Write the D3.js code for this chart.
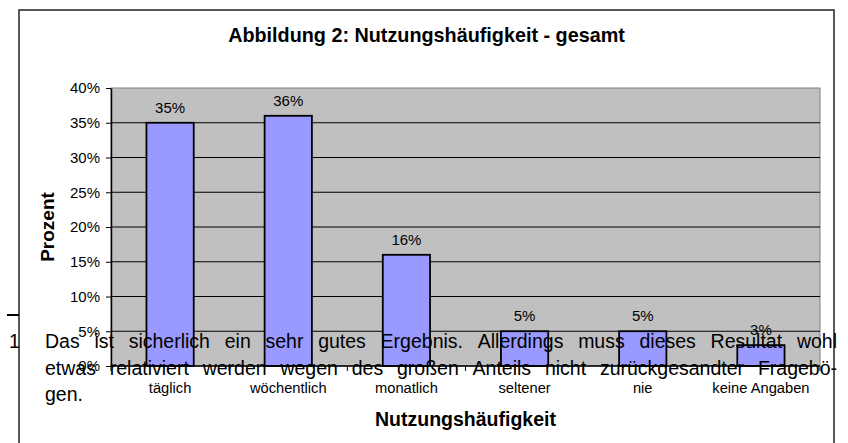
<!DOCTYPE html>
<html>
<head>
<meta charset="utf-8">
<script src="https://cdnjs.cloudflare.com/ajax/libs/d3/7.8.5/d3.min.js"></script>
<style>
  body { margin: 0; background: #fff; }
  text { font-family: "Liberation Sans", Arial, sans-serif; }
</style>
</head>
<body>
<svg id="chart" width="848" height="443"></svg>
<script>
// data
const categories = ["täglich", "wöchentlich", "monatlich", "seltener", "nie", "keine Angaben"];
const percentValues = [35, 36, 16, 5, 5, 3];
const yTicks = [0, 5, 10, 15, 20, 25, 30, 35, 40];
const chartTitle = "Abbildung 2: Nutzungshäufigkeit - gesamt";
const xTitle = "Nutzungshäufigkeit";
const yTitle = "Prozent";
const footnoteMark = "1";
const footnoteLines = [
    "Das ist sicherlich ein sehr gutes Ergebnis. Allerdings muss dieses Resultat wohl",
    "etwas relativiert werden wegen des großen Anteils nicht zurückgesandter Fragebö-",
    "gen."
];

const svg = d3.select("#chart");

// chart box (runs off the bottom of the page)
const box = { left: 19, top: 10, right: 834, bottom: 470 };
const plot = { left: 111, top: 88, right: 820, bottom: 366 };

svg.append("rect")
    .attr("x", box.left).attr("y", box.top)
    .attr("width", box.right - box.left).attr("height", box.bottom - box.top)
    .attr("fill", "#fff")
    .attr("stroke", "#222")
    .attr("stroke-width", 1.5);

// scales
const x = d3.scaleBand()
    .domain(categories)
    .range([plot.left, plot.right])
    .paddingInner(0.6)
    .paddingOuter(0.3);

const y = d3.scaleLinear()
    .domain([0, 40])
    .range([plot.bottom, plot.top]);

// plot area
svg.append("rect")
    .attr("x", plot.left).attr("y", plot.top)
    .attr("width", plot.right - plot.left).attr("height", plot.bottom - plot.top)
    .attr("fill", "#c0c0c0")
    .attr("stroke", "#808080")
    .attr("stroke-width", 1);

// gridlines
svg.append("g")
    .selectAll("line")
    .data(yTicks.filter(d => d > 0 && d < 40))
    .enter()
    .append("line")
    .attr("x1", plot.left).attr("x2", plot.right)
    .attr("y1", d => y(d)).attr("y2", d => y(d))
    .attr("stroke", "#000")
    .attr("stroke-width", 1);

// bars
svg.append("g")
    .selectAll("rect")
    .data(percentValues)
    .enter()
    .append("rect")
    .attr("x", (d, i) => x(categories[i]))
    .attr("y", d => y(d))
    .attr("width", x.bandwidth())
    .attr("height", d => y(0) - y(d))
    .attr("fill", "#9999ff")
    .attr("stroke", "#000")
    .attr("stroke-width", 1.8);

// value labels
svg.append("g")
    .selectAll("text")
    .data(percentValues)
    .enter()
    .append("text")
    .attr("x", (d, i) => x(categories[i]) + x.bandwidth() / 2)
    .attr("y", d => y(d) - 10)
    .attr("text-anchor", "middle")
    .attr("font-size", 15)
    .attr("fill", "#000")
    .text(d => d + "%");

// y axis
const yAxis = svg.append("g")
    .attr("transform", `translate(${plot.left},0)`)
    .call(d3.axisLeft(y)
        .tickValues(yTicks)
        .tickFormat(d => d + "%")
        .tickSizeInner(5)
        .tickSizeOuter(0)
        .tickPadding(6));
yAxis.select(".domain").attr("stroke", "#000").attr("stroke-width", 1.5);
yAxis.selectAll(".tick line").attr("stroke", "#000");
yAxis.selectAll(".tick text")
    .attr("font-size", 15)
    .attr("font-family", "Liberation Sans, Arial, sans-serif")
    .attr("fill", "#000");

// x axis: line, ticks between categories, labels
svg.append("line")
    .attr("x1", plot.left).attr("x2", plot.right)
    .attr("y1", y(0)).attr("y2", y(0))
    .attr("stroke", "#000")
    .attr("stroke-width", 1.5);

svg.append("g")
    .selectAll("line")
    .data(d3.range(categories.length + 1))
    .enter()
    .append("line")
    .attr("x1", i => plot.left + i * x.step())
    .attr("x2", i => plot.left + i * x.step())
    .attr("y1", y(0)).attr("y2", y(0) + 5)
    .attr("stroke", "#000");

svg.append("g")
    .selectAll("text")
    .data(categories)
    .enter()
    .append("text")
    .attr("x", d => x(d) + x.bandwidth() / 2)
    .attr("y", 393)
    .attr("text-anchor", "middle")
    .attr("font-size", 14.7)
    .text(d => d);

// titles
svg.append("text")
    .attr("x", (box.left + box.right) / 2)
    .attr("y", 42)
    .attr("text-anchor", "middle")
    .attr("font-size", 19.8)
    .attr("font-weight", "bold")
    .text(chartTitle);

svg.append("text")
    .attr("x", (plot.left + plot.right) / 2)
    .attr("y", 426)
    .attr("text-anchor", "middle")
    .attr("font-size", 19.5)
    .attr("font-weight", "bold")
    .text(xTitle);

svg.append("text")
    .attr("transform", `translate(54,${(plot.top + plot.bottom) / 2}) rotate(-90)`)
    .attr("text-anchor", "middle")
    .attr("font-size", 19)
    .attr("font-weight", "bold")
    .text(yTitle);

// footnote drawn over the chart
svg.append("line")
    .attr("x1", 7).attr("x2", 19)
    .attr("y1", 315).attr("y2", 315)
    .attr("stroke", "#000")
    .attr("stroke-width", 2);

svg.append("text")
    .attr("x", 9).attr("y", 348)
    .attr("font-size", 19.5)
    .text(footnoteMark);

const noteLeft = 45, noteRight = 837, noteSize = 19.5;
const noteBaselines = [348, 374.5, 401];

footnoteLines.forEach((line, li) => {
    const words = line.split(" ");
    const g = svg.append("g");
    const nodes = words.map(w => g.append("text")
        .attr("font-size", noteSize)
        .attr("y", noteBaselines[li])
        .text(w));
    const widths = nodes.map(n => n.node().getComputedTextLength());
    const total = d3.sum(widths);
    // justify every line except the last one
    const gap = (li < footnoteLines.length - 1 && words.length > 1)
        ? (noteRight - noteLeft - total) / (words.length - 1)
        : noteSize * 0.28;
    let cx = noteLeft;
    nodes.forEach((n, i) => {
        n.attr("x", cx);
        cx += widths[i] + gap;
    });
});
</script>
</body>
</html>
